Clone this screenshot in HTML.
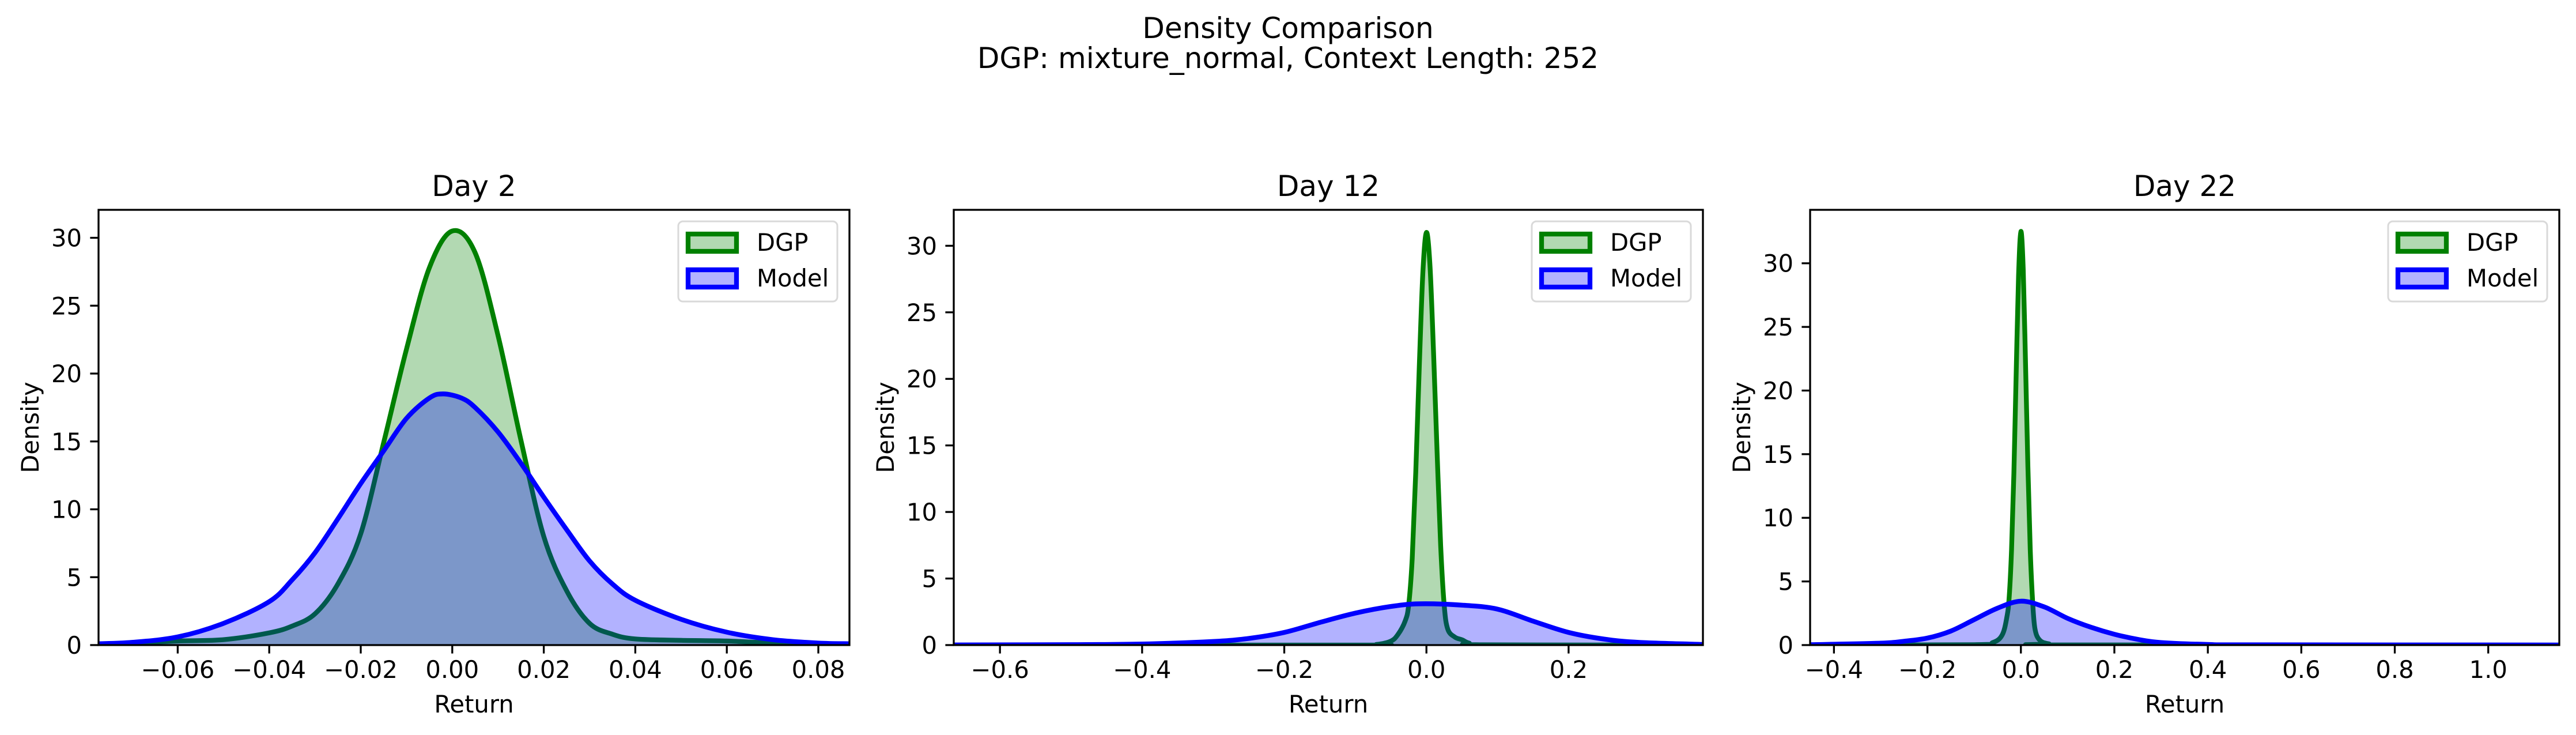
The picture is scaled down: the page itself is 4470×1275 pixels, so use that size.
<!DOCTYPE html>
<html><head><meta charset="utf-8"><style>
html,body{margin:0;padding:0;background:#fff;}
svg{display:block;font-family:"DejaVu Sans","Liberation Sans",sans-serif;}
</style></head><body>
<svg id="chart" width="4470" height="1275" viewBox="0 0 4470 1275" xmlns="http://www.w3.org/2000/svg">
<text x="2235" y="66" font-size="50" text-anchor="middle">Density Comparison</text>
<text x="2235" y="118" font-size="50" text-anchor="middle">DGP: mixture_normal, Context Length: 252</text>
<g id="panels"></g>
</svg>
<script>
// ---- Day 2 data ----
const p1DgpX = [-0.0773,-0.07,-0.06,-0.05,-0.04,-0.035,-0.03,-0.025,-0.02,-0.015,-0.01,-0.005,0,0.005,0.01,0.015,0.02,0.025,0.03,0.035,0.04,0.05,0.06,0.07,0.08,0.0868];
const p1DgpY = [0.05,0.15,0.3,0.4,0.9,1.4,2.3,4.5,8.2,14.9,21.8,27.8,30.5,28.9,22.8,15.1,8.0,4.0,1.6,0.8,0.45,0.35,0.3,0.15,0.05,0.02];
const p1ModX = [-0.0773,-0.07,-0.06,-0.05,-0.04,-0.035,-0.03,-0.025,-0.02,-0.015,-0.01,-0.005,-0.002,0.002,0.005,0.01,0.015,0.02,0.025,0.03,0.035,0.04,0.05,0.06,0.07,0.08,0.0868];
const p1ModY = [0.1,0.2,0.6,1.6,3.2,4.8,6.8,9.3,11.9,14.3,16.7,18.2,18.5,18.2,17.5,15.7,13.4,10.9,8.5,6.2,4.5,3.3,1.9,0.95,0.4,0.15,0.1];
// ---- Day 12 data ----
const p2DgpX = [-0.665,-0.1,-0.07,-0.05,-0.04,-0.03,-0.025,-0.02,-0.015,-0.01,-0.005,0,0.005,0.01,0.015,0.02,0.025,0.03,0.04,0.05,0.06,0.08,0.389];
const p2DgpY = [0,0,0.05,0.3,0.8,1.8,3,6.5,13,21,28,31,28.5,22,14.5,7.5,3,1.2,0.6,0.4,0.15,0.02,0];
const p2ModX = [-0.665,-0.5,-0.4,-0.3,-0.25,-0.2,-0.15,-0.1,-0.05,-0.01,0.05,0.1,0.15,0.2,0.25,0.3,0.389];
const p2ModY = [0.01,0.03,0.08,0.27,0.5,0.95,1.7,2.4,2.9,3.1,3.0,2.7,1.8,0.95,0.45,0.2,0.05];
// ---- Day 22 data ----
const p3DgpX = [-0.451,-0.1,-0.06,-0.04,-0.03,-0.025,-0.02,-0.015,-0.01,-0.005,0,0.005,0.01,0.015,0.02,0.025,0.03,0.04,0.06,0.1,1.152];
const p3DgpY = [0,0.03,0.2,0.8,2.2,3.8,7.5,13.5,21.5,29,32.5,29.5,22,14,7.5,3.5,1.3,0.4,0.1,0.01,0];
const p3ModX = [-0.451,-0.3,-0.25,-0.2,-0.15,-0.1,-0.05,0,0.05,0.1,0.15,0.2,0.25,0.3,0.4,0.5,1.152];
const p3ModY = [0.03,0.15,0.3,0.55,1.1,2.0,2.9,3.45,3.0,2.1,1.4,0.85,0.45,0.2,0.05,0.02,0.005];
// ---- ticks ----
const p1XTicks = [-0.06,-0.04,-0.02,0,0.02,0.04,0.06,0.08];
const p2XTicks = [-0.6,-0.4,-0.2,0,0.2];
const p3XTicks = [-0.4,-0.2,0,0.2,0.4,0.6,0.8,1.0];
const yTicks = [0,5,10,15,20,25,30];
const titles = ["Day 2","Day 12","Day 22"];

const NS = "http://www.w3.org/2000/svg";
const root = document.getElementById('panels');
function mk(tag, attrs, parent){const e=document.createElementNS(NS,tag);for(const k in attrs)e.setAttribute(k,attrs[k]);(parent||root).appendChild(e);return e;}
function fmt(v,d){const s=Math.abs(v).toFixed(d);return (v<-1e-9?"\u2212":"")+s;}

const panels = [
 {L:171,R:1474,xmin:-0.0773,xmax:0.0868,ymax:32.06,xt:p1XTicks,dec:2,dx:p1DgpX,dy:p1DgpY,mx:p1ModX,my:p1ModY},
 {L:1655,R:2955,xmin:-0.665,xmax:0.389,ymax:32.7,xt:p2XTicks,dec:1,dx:p2DgpX,dy:p2DgpY,mx:p2ModX,my:p2ModY},
 {L:3141,R:4441,xmin:-0.451,xmax:1.152,ymax:34.2,xt:p3XTicks,dec:1,dx:p3DgpX,dy:p3DgpY,mx:p3ModX,my:p3ModY}
];
const T=364,B=1119;

function smoothPath(xs,ys,sx,sy){
  const p=xs.map((x,i)=>[sx(x),sy(ys[i])]);
  let d=`M${p[0][0]},${p[0][1]}`;
  for(let i=0;i<p.length-1;i++){
    const p0=p[Math.max(0,i-1)],p1=p[i],p2=p[i+1],p3=p[Math.min(p.length-1,i+2)];
    const c1=[p1[0]+(p2[0]-p0[0])/6,Math.min(B,p1[1]+(p2[1]-p0[1])/6)];
    const c2=[p2[0]-(p3[0]-p1[0])/6,Math.min(B,p2[1]-(p3[1]-p1[1])/6)];
    d+=` C${c1[0]},${c1[1]} ${c2[0]},${c2[1]} ${p2[0]},${p2[1]}`;
  }
  return {d,first:p[0],last:p[p.length-1]};
}

panels.forEach((P,i)=>{
  const g=mk('g',{});
  
  
  const sx=v=>P.L+(v-P.xmin)/(P.xmax-P.xmin)*(P.R-P.L);
  const sy=v=>B-v/P.ymax*(B-T);
  const cid='clip'+i;
  const cp=mk('clipPath',{id:cid},g); mk('rect',{x:P.L,y:T,width:P.R-P.L,height:B-T},cp);
  const series=[[P.dx,P.dy,'#008000','dgp'],[P.mx,P.my,'#0000ff','model']];
  series.forEach(([xs,ys,col,nm])=>{
    const s=smoothPath(xs,ys,sx,sy);
    const f=mk('path',{d:s.d+` L${s.last[0]},${B} L${s.first[0]},${B} Z`,fill:col,'fill-opacity':0.3,stroke:'none','clip-path':`url(#${cid})`},g);
    
    
    const l=mk('path',{d:s.d,fill:'none',stroke:col,'stroke-width':8.3,'stroke-linejoin':'round','clip-path':`url(#${cid})`},g);
    
    
  });
  const fr=mk('rect',{x:P.L,y:T,width:P.R-P.L,height:B-T,fill:'none',stroke:'#000','stroke-width':3.3},g);
  
  
  yTicks.forEach(v=>{
    const y=sy(v);
    mk('line',{x1:P.L-14.6,x2:P.L,y1:y,y2:y,stroke:'#000','stroke-width':3.3},g);
    const t=mk('text',{x:P.L-29,y:y+15,'font-size':41.7,'text-anchor':'end'},g);
    t.textContent=v;
    
    
  });
  P.xt.forEach(v=>{
    const x=sx(v);
    mk('line',{x1:x,x2:x,y1:B,y2:B+14.6,stroke:'#000','stroke-width':3.3},g);
    const t=mk('text',{x:x,y:1176,'font-size':41.7,'text-anchor':'middle'},g);
    t.textContent=fmt(v,P.dec);
    
    
  });
  const tt=mk('text',{x:(P.L+P.R)/2,y:340,'font-size':50,'text-anchor':'middle'},g);
  tt.textContent=titles[i];
  
  
  const xl=mk('text',{x:(P.L+P.R)/2,y:1236,'font-size':41.7,'text-anchor':'middle'},g);
  xl.textContent='Return';
  
  
  const yx=P.L-104, yc=(T+B)/2;
  const yl=mk('text',{x:yx,y:yc,'font-size':41.7,'text-anchor':'middle',transform:`rotate(-90 ${yx} ${yc})`},g);
  yl.textContent='Density';
  
  
  const lx=P.R-297, ly=T+20;
  const lg=mk('g',{},g);
  
  
  mk('rect',{x:lx,y:ly,width:276,height:139,rx:8,fill:'#fff','fill-opacity':0.8,stroke:'#d9d9d9','stroke-width':3},lg);
  [['DGP','#008000',18],['Model','#0000ff',80]].forEach(([lab,col,off])=>{
    const r=mk('rect',{x:lx+17,y:ly+off+4,width:84,height:30,fill:col,'fill-opacity':0.3,stroke:col,'stroke-width':8.3},lg);
    
    
    const t=mk('text',{x:lx+136,y:ly+off+33,'font-size':41.7},lg);
    t.textContent=lab;
    
    
  });
});
</script>
</body></html>
